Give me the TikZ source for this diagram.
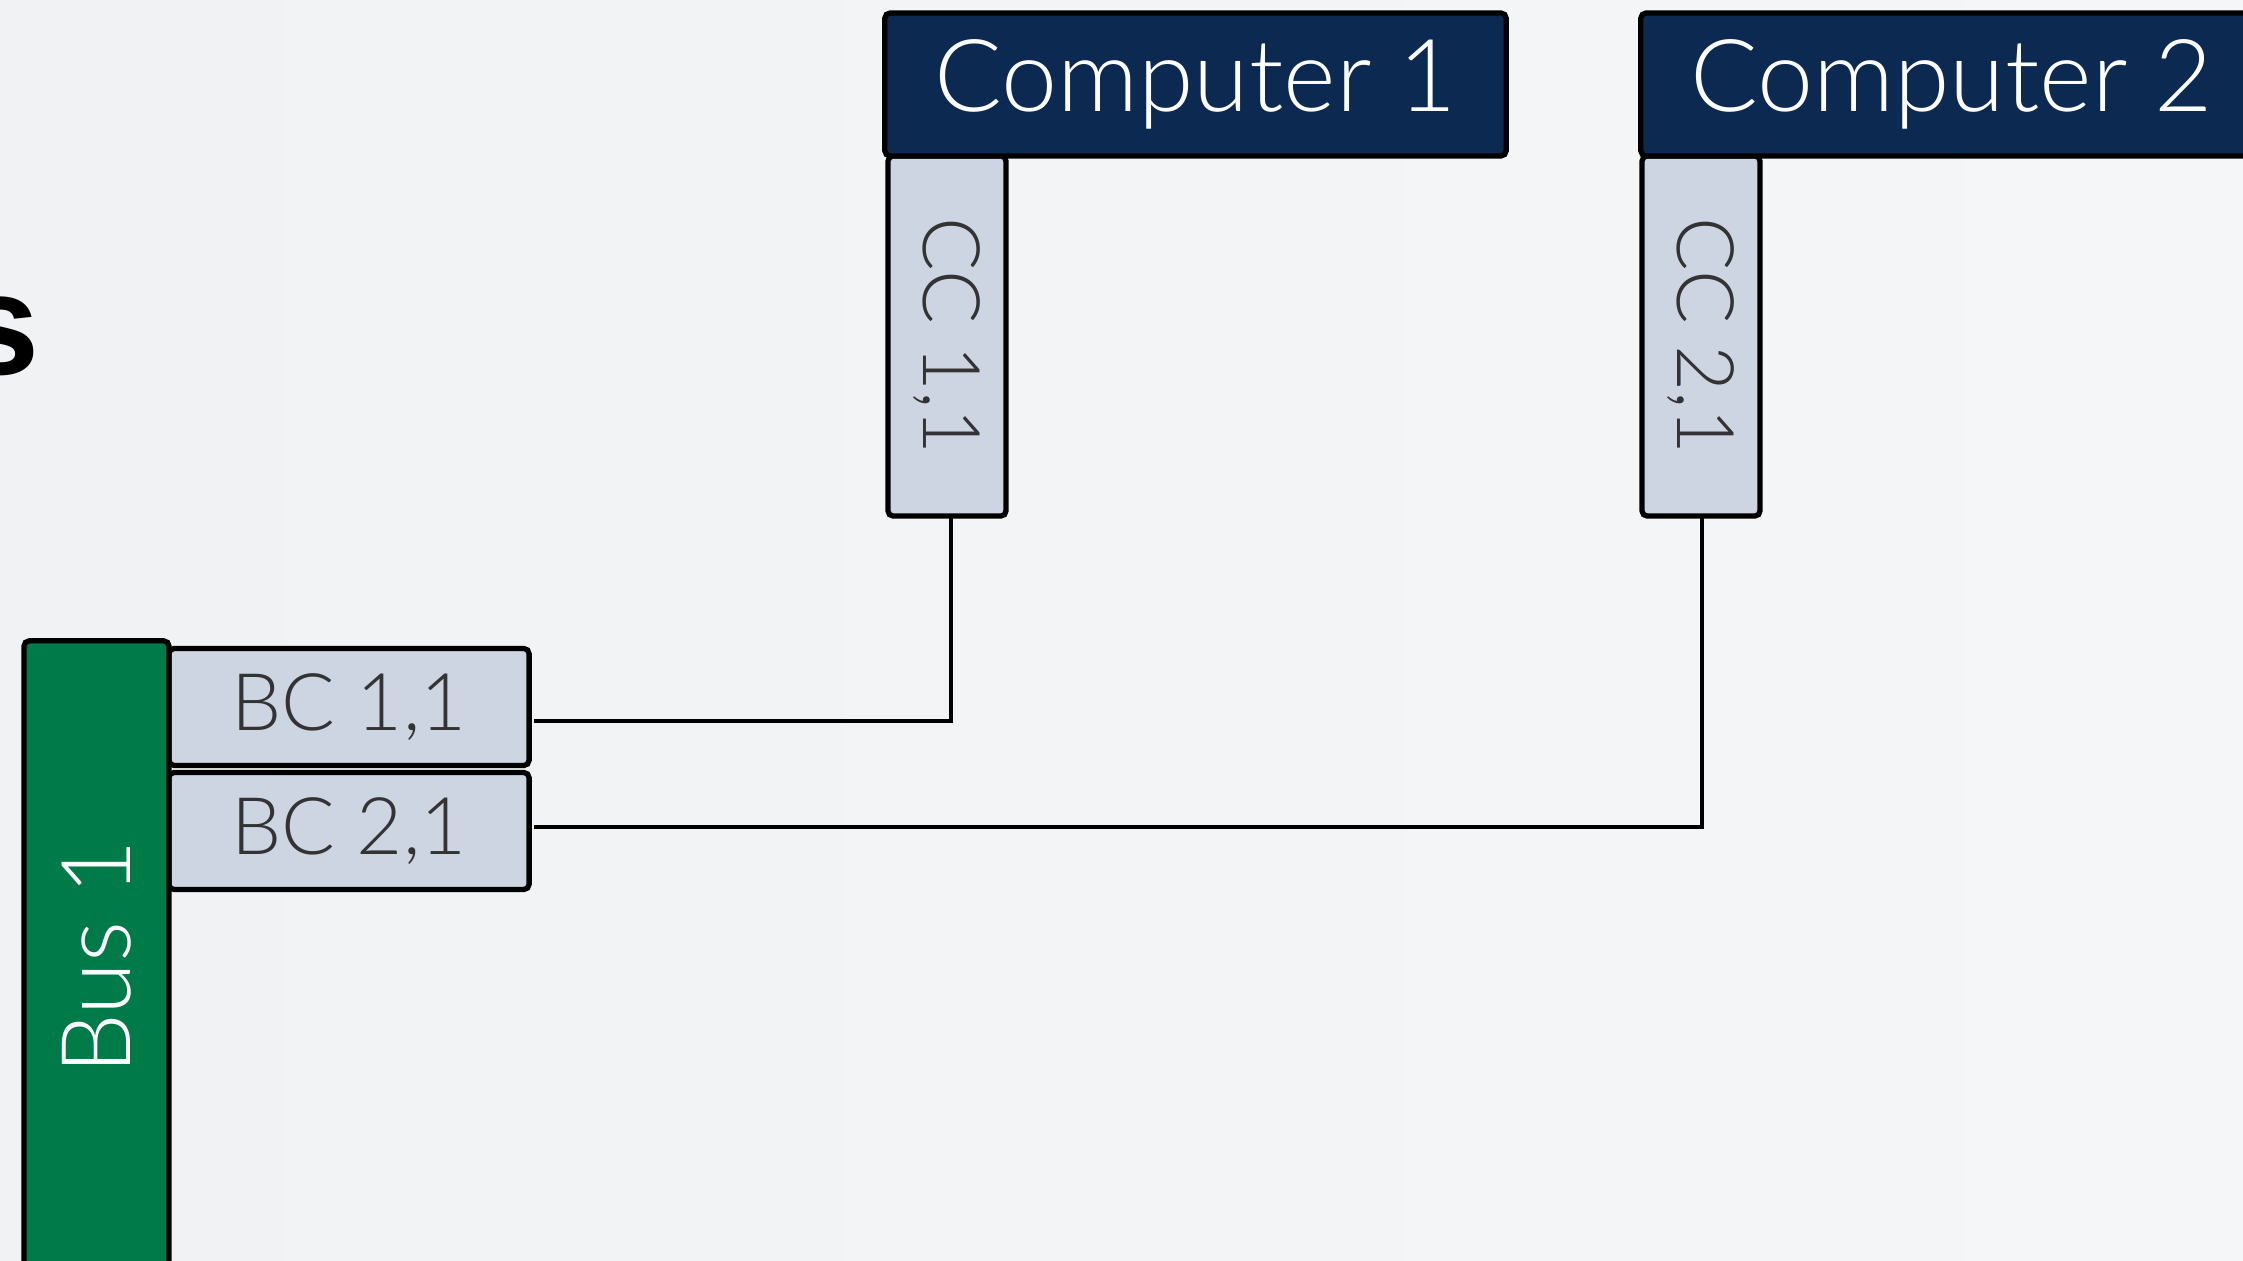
\documentclass[tikz,border=0pt]{standalone}
\usepackage{fontspec}
\setmainfont{Lato}[UprightFont={* Light}]
\newfontfamily\headfont{Liberation Sans}
\usetikzlibrary{calc}
\definecolor{bgleft}{HTML}{F1F2F4}
\definecolor{bgright}{HTML}{F5F6F8}
\definecolor{navy}{HTML}{0B2951}
\definecolor{pale}{HTML}{CDD5E2}
\definecolor{busgreen}{HTML}{007A48}
\definecolor{ink}{HTML}{333333}
\begin{document}
\begin{tikzpicture}[x=0.01cm,y=-0.01cm,
  box/.style={draw=black, line width=1.5pt, rounded corners=1.5pt, inner sep=0pt, outer sep=0pt},
  computer/.style={box, fill=navy, text=white, minimum width=6.21cm, minimum height=1.43cm,
    font=\fontsize{28.6}{30}\selectfont},
  ccbox/.style={box, fill=pale, text=ink, minimum width=1.18cm, minimum height=3.60cm,
    font=\fontsize{22.6}{24}\selectfont},
  bcbox/.style={box, fill=pale, text=ink, minimum width=3.60cm, minimum height=1.17cm,
    font=\fontsize{22.6}{24}\selectfont},
  busbox/.style={box, fill=busgreen, text=white, minimum width=1.45cm, minimum height=6.32cm,
    font=\fontsize{27.4}{29}\selectfont},
  wire/.style={draw=black, line width=1.2pt}]
  % page and background
  \useasboundingbox (0,0) rectangle (2243,1261);
  \shade[left color=bgleft, right color=bgright] (0,0) rectangle (2243,1261);

  % heading fragment at the left edge
  \node[anchor=base east, inner sep=0pt, font=\headfont\bfseries\fontsize{41}{41}\selectfont] (head) at (40,375) {s};

  % computer connectors (under the computer boxes)
  \node[ccbox] (cc11) at (947,336) {\rotatebox{-90}{CC 1,1}};
  \node[ccbox] (cc21) at (1701,336) {\rotatebox{-90}{CC 2,1}};

  % computers
  \node[computer] (comp1) at (1195.5,84.5) {Computer 1};
  \node[computer] (comp2) at (1951.5,84.5) {Computer 2};

  % bus connectors
  \node[bcbox] (bc11) at (349,707) {BC 1,1};
  \node[bcbox] (bc21) at (349,831) {BC 2,1};

  % bus
  \node[busbox] (bus1) at (96.5,957) {\rotatebox{90}{Bus 1}};

  % wiring
  \coordinate (j1) at (534,721);
  \coordinate (j2) at (534,827);
  \draw[wire] ($(cc11.south)+(4,2)$) -- ($(cc11.south |- j1)+(4,0)$) -- (j1);
  \draw[wire] ($(cc21.south)+(1,2)$) -- ($(cc21.south |- j2)+(1,0)$) -- (j2);
\end{tikzpicture}
\end{document}
